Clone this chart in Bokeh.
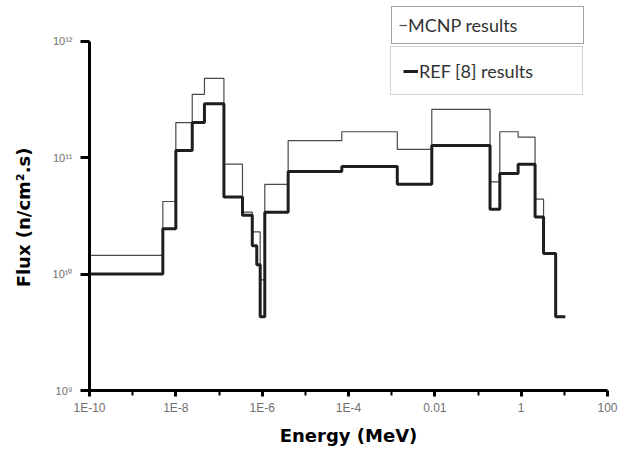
from bokeh.plotting import figure
from bokeh.models import (Range1d, FixedTicker, CustomJSTickFormatter, Legend, LegendItem)
from bokeh.embed import file_html
from bokeh.resources import INLINE

# Energy group edges (MeV) and flux per group (n/cm^2.s)
edges = [1e-10, 5e-9, 1e-8, 2.4e-8, 4.6e-8, 1.3e-7, 3.5e-7, 5.9e-7, 7.5e-7, 9e-7,
         1.15e-6, 4e-6, 7e-5, 1.35e-3, 8.5e-3, 0.19, 0.32, 0.85, 2.1, 3.3, 6.3, 10.5]
mcnp_flux = [1.45e10, 4.2e10, 2.0e11, 3.5e11, 4.8e11, 8.8e10, 3.4e10, 2.3e10, 2.3e10, 8.9e9,
             5.9e10, 1.4e11, 1.67e11, 1.18e11, 2.6e11, 6.2e10, 1.67e11, 1.5e11, 4.4e10, 1.5e10, 4.3e9]
ref_flux = [1.0e10, 2.45e10, 1.15e11, 2.0e11, 2.9e11, 4.6e10, 3.2e10, 1.75e10, 1.2e10, 4.3e9,
            3.4e10, 7.6e10, 8.4e10, 5.9e10, 1.27e11, 3.6e10, 7.3e10, 8.8e10, 3.1e10, 1.5e10, 4.3e9]

x_tick_values = [1e-10, 1e-8, 1e-6, 1e-4, 1e-2, 1, 100]
x_tick_labels = ["1E-10", "1E-8", "1E-6", "1E-4", "0.01", "1", "100"]
x_minor_values = [1e-9, 1e-7, 1e-5, 1e-3, 1e-1, 10]
y_tick_values = [1e9, 1e10, 1e11, 1e12]
y_tick_labels = ["10\u2079", "10\u00b9\u2070", "10\u00b9\u00b9", "10\u00b9\u00b2"]

p = figure(width=618, height=448, x_axis_type="log", y_axis_type="log",
           x_range=Range1d(1e-10, 1e2), y_range=Range1d(1e9, 10 ** 12.35),
           output_backend="svg", toolbar_location=None,
           min_border_left=89, min_border_right=11, min_border_top=0, min_border_bottom=54)
p.outline_line_color = None
p.grid.visible = False
p.background_fill_color = "white"
p.border_fill_color = "white"

fmt_code = """
const i = tvals.findIndex(t => Math.abs(Math.log10(t) - Math.log10(tick)) < 1e-6);
return i >= 0 ? tlabels[i] : "";
"""

xa = p.xaxis[0]
xa.ticker = FixedTicker(ticks=x_tick_values, minor_ticks=x_minor_values)
xa.formatter = CustomJSTickFormatter(args=dict(tvals=x_tick_values, tlabels=x_tick_labels), code=fmt_code)
xa.axis_line_width = 3
xa.axis_line_color = "black"
xa.major_tick_line_width = 3
xa.major_tick_in = 0
xa.major_tick_out = 6
xa.minor_tick_line_width = 2
xa.minor_tick_in = 0
xa.minor_tick_out = 5
xa.major_label_standoff = 4
xa.major_label_text_font = "Liberation Sans"
xa.major_label_text_font_size = "12px"
xa.major_label_text_color = "#707070"
xa.axis_label = "Energy (MeV)"
xa.axis_label_text_font = "DejaVu Sans"
xa.axis_label_text_font_style = "bold"
xa.axis_label_text_font_size = "18px"
xa.axis_label_text_color = "black"
xa.axis_label_standoff = 7

ya = p.yaxis[0]
ya.ticker = FixedTicker(ticks=y_tick_values, minor_ticks=[])
ya.formatter = CustomJSTickFormatter(args=dict(tvals=y_tick_values, tlabels=y_tick_labels), code=fmt_code)
ya.bounds = (1e9, 1e12)
ya.axis_line_width = 3
ya.axis_line_color = "black"
ya.major_tick_line_width = 3
ya.major_tick_in = 0
ya.major_tick_out = 9
ya.minor_tick_line_color = None
ya.major_label_standoff = 8
ya.major_label_text_font = "Liberation Sans"
ya.major_label_text_font_size = "11px"
ya.major_label_text_color = "#707070"
# trailing no-break spaces shift the visible title down to centre it on the axis line
ya.axis_label = "Flux (n/cm\u00b2.s)" + "\u00a0" * 7
ya.axis_label_text_font = "DejaVu Sans"
ya.axis_label_text_font_style = "bold"
ya.axis_label_text_font_size = "18px"
ya.axis_label_text_color = "black"
ya.axis_label_standoff = 16

r_mcnp = p.step(edges, mcnp_flux + [mcnp_flux[-1]], mode="after",
                line_color="#4a4a4a", line_width=1.2)
r_ref = p.step(edges, ref_flux + [ref_flux[-1]], mode="after",
               line_color="#1e1e1e", line_width=3)

common = dict(spacing=0, label_standoff=1, glyph_height=16,
              label_text_font="Lato", label_text_font_size="18px", label_text_color="#333333",
              background_fill_color="white", background_fill_alpha=1.0, margin=0)

leg1 = Legend(items=[LegendItem(label="MCNP results", renderers=[r_mcnp])],
              location=(302, 346), padding=7, glyph_width=8, label_width=168, label_height=22,
              border_line_color="#444444", border_line_width=1.3, **common)
leg2 = Legend(items=[LegendItem(label="REF [8] results", renderers=[r_ref])],
              location=(301, 295), padding=12, glyph_width=15, label_width=151, label_height=23,
              border_line_color="#a8a8a8", border_line_width=1, **common)
p.add_layout(leg1, "center")
p.add_layout(leg2, "center")

open("out.html", "w").write(file_html(p, INLINE))
